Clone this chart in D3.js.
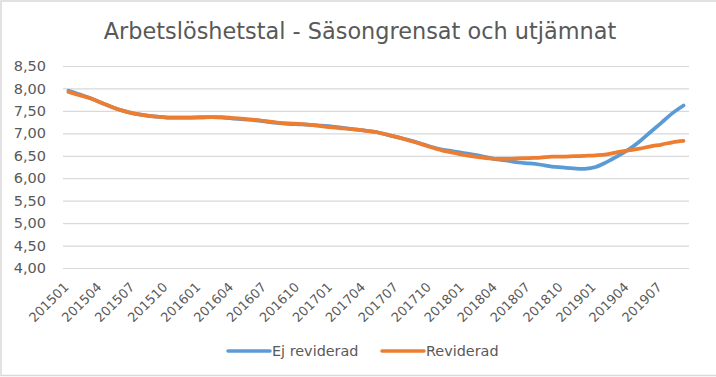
<!DOCTYPE html>
<html>
<head>
<meta charset="utf-8">
<script src="https://cdn.jsdelivr.net/npm/d3@7"></script>
<style>
  body { margin: 0; background: #fff; }
  svg text { font-family: "DejaVu Sans", sans-serif; fill: #595959; }
</style>
</head>
<body>
<div id="chart"></div>
<script>
// monthly periods 201501 .. 201909
var months = [];
for (var yr = 2015; yr <= 2019; yr++) {
    for (var m = 1; m <= 12; m++) {
        if (yr === 2019 && m > 9) break;
        months.push(String(yr) + (m < 10 ? '0' : '') + m);
    }
}
var ejReviderad = [
    7.95, 7.87, 7.78, 7.68, 7.58, 7.50, 7.44, 7.40, 7.37, 7.35, 7.35, 7.35,
    7.36, 7.36, 7.35, 7.33, 7.31, 7.29, 7.26, 7.23, 7.21, 7.20, 7.19, 7.17,
    7.15, 7.12, 7.09, 7.06, 7.03, 6.97, 6.91, 6.85, 6.78, 6.70, 6.64, 6.60,
    6.56, 6.52, 6.47, 6.42, 6.39, 6.35, 6.33, 6.30, 6.26, 6.24, 6.22, 6.21,
    6.25, 6.36, 6.49, 6.64, 6.82, 7.03, 7.24, 7.45, 7.62
];
var reviderad = [
    7.92, 7.85, 7.78, 7.68, 7.58, 7.50, 7.44, 7.40, 7.37, 7.35, 7.35, 7.35,
    7.35, 7.36, 7.36, 7.34, 7.32, 7.30, 7.27, 7.24, 7.22, 7.21, 7.19, 7.16,
    7.13, 7.11, 7.09, 7.06, 7.03, 6.97, 6.91, 6.84, 6.77, 6.69, 6.62, 6.57,
    6.52, 6.48, 6.45, 6.43, 6.43, 6.44, 6.45, 6.46, 6.48, 6.48, 6.49, 6.50,
    6.51, 6.53, 6.58, 6.62, 6.66, 6.71, 6.75, 6.80, 6.83
];
var yTicks = [4.0, 4.5, 5.0, 5.5, 6.0, 6.5, 7.0, 7.5, 8.0, 8.5];
var seriesNames = ['Ej reviderad', 'Reviderad'];
var seriesColors = ['#5b9bd5', '#ed7d31'];

var W = 716, H = 377;
var m = { top: 66, right: 27, bottom: 109, left: 63 };
var width = W - m.left - m.right, height = H - m.top - m.bottom;

var svg = d3.select('#chart').append('svg')
    .attr('width', W).attr('height', H);

// outer frame
svg.append('rect')
    .attr('x', 1).attr('y', 1).attr('width', W + 4).attr('height', H - 2.5)
    .attr('fill', 'none').attr('stroke', '#d9d9d9').attr('stroke-width', 1.5);

svg.append('text')
    .attr('x', 360).attr('y', 39)
    .attr('text-anchor', 'middle')
    .style('font-size', '22.4px')
    .text('Arbetslöshetstal - Säsongrensat och utjämnat');

var g = svg.append('g').attr('transform', 'translate(' + m.left + ',' + m.top + ')');

var x = d3.scaleBand().domain(months).range([0, width]);
var y = d3.scaleLinear().domain([4, 8.5]).range([height, 0]);

// y grid + labels
var yAxis = d3.axisLeft(y).tickValues(yTicks).tickSize(-width)
    .tickFormat(function(d) { return d3.format('.2f')(d).replace('.', ','); });
g.append('g').call(function(a) {
    a.call(yAxis);
    a.select('.domain').remove();
    a.selectAll('.tick line').attr('stroke', '#d9d9d9').attr('stroke-width', 1.2);
    a.selectAll('.tick text').attr('x', -17).style('font-size', '14.5px')
        .style('font-family', '"DejaVu Sans", sans-serif').attr('fill', '#595959');
});

// x labels every third month
var xAxis = d3.axisBottom(x)
    .tickValues(months.filter(function(d, i) { return i % 3 === 0; }))
    .tickSize(0);
g.append('g').attr('transform', 'translate(0,' + height + ')').call(function(a) {
    a.call(xAxis);
    a.select('.domain').remove();
    a.selectAll('.tick text')
        .attr('text-anchor', 'end')
        .attr('dy', 0).attr('y', 0)
        .attr('transform', 'translate(1,20) rotate(-45)')
        .style('font-size', '13px')
        .style('font-family', '"DejaVu Sans", sans-serif').attr('fill', '#595959');
});

var line = d3.line()
    .x(function(d, i) { return x(months[i]) + x.bandwidth() / 2; })
    .y(function(d) { return y(d); })
    .curve(d3.curveCatmullRom);

[ejReviderad, reviderad].forEach(function(s, i) {
    g.append('path').datum(s)
        .attr('fill', 'none')
        .attr('stroke', seriesColors[i])
        .attr('stroke-width', 3.75)
        .attr('stroke-linecap', 'round')
        .attr('d', line);
});

// legend
var legX = [228, 382];
seriesNames.forEach(function(n, i) {
    var lg = svg.append('g').attr('transform', 'translate(' + legX[i] + ',351)');
    lg.append('line').attr('x1', 0).attr('x2', 42).attr('y1', 0).attr('y2', 0)
        .attr('stroke', seriesColors[i]).attr('stroke-width', 3.5).attr('stroke-linecap', 'round');
    lg.append('text').attr('x', 44).attr('y', 5).style('font-size', '14.4px').text(n);
});
</script>
</body>
</html>
